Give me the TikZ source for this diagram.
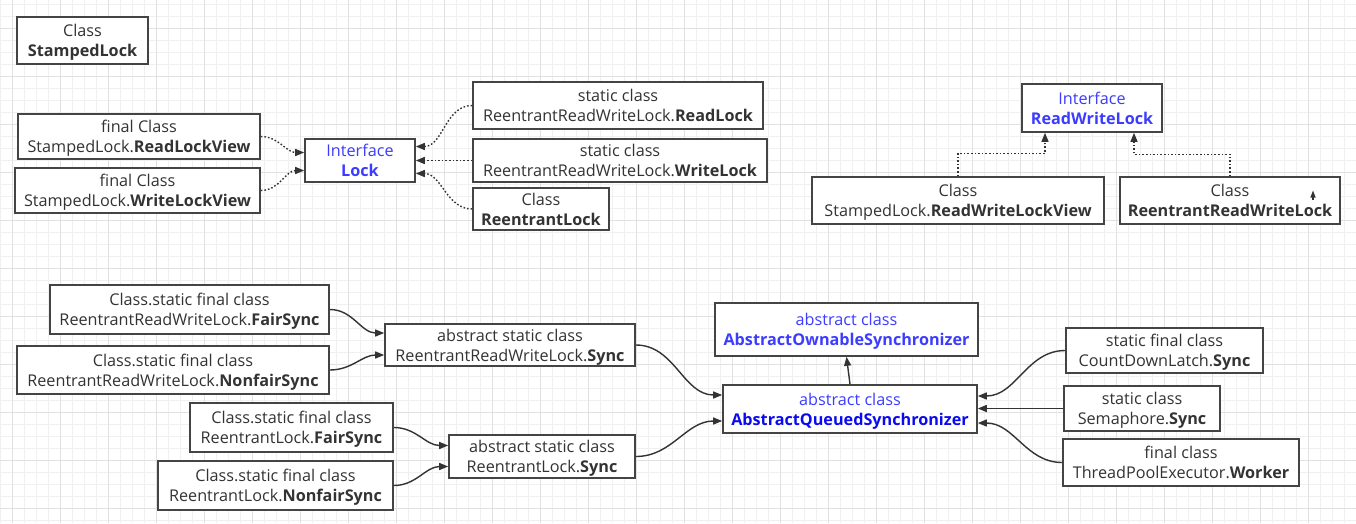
\documentclass[tikz,border=0pt]{standalone}
\usepackage{fontspec}
\setmainfont{Open Sans}
\usepackage{xcolor}
\usepackage{tikz}
\usetikzlibrary{
    arrows.meta,
    positioning
}

\definecolor{ink}{HTML}{333333}
\definecolor{boxgray}{HTML}{444444}
\definecolor{ifblue}{HTML}{3C3CFF}
\definecolor{aqsblue}{HTML}{0A0AF0}
\definecolor{gridfine}{HTML}{F0F0F0}
\definecolor{gridbold}{HTML}{E1E1E1}

\begin{document}
\begin{tikzpicture}[
    x=1pt, y=-1pt,
    >={Triangle[length=9pt,width=7pt]},
    box/.style={draw=boxgray, line width=1.6pt, fill=white, align=center,
        inner sep=0pt, text=ink, text depth=0pt,
        font=\fontsize{16.2}{20}\selectfont},
    iface/.style={box, text=ifblue},
    realize/.style={->, ink, line width=1.4pt, dash pattern=on 1.6pt off 2pt},
    inherit/.style={->, ink, line width=1.4pt}
]

\useasboundingbox (0,0) rectangle (1356,523);
\fill[white] (0,0) rectangle (1356,523);

% grid
\foreach \i in {0,...,113}
    \draw[gridfine, line width=0.8pt] (\i*12,0) -- (\i*12,523);
\foreach \j in {0,...,43}
    \draw[gridfine, line width=0.8pt] (0,4+\j*12) -- (1356,4+\j*12);
\foreach \i in {0,...,28}
    \draw[gridbold, line width=0.8pt] (12+\i*48,0) -- (12+\i*48,523);
\foreach \j in {0,...,10}
    \draw[gridbold, line width=0.8pt] (0,28+\j*48) -- (1356,28+\j*48);

% top left: Lock
\node[box, minimum width=131pt, minimum height=47pt] (stamped) at (82.5,40.5)
    {Class\\\textbf{StampedLock}};
\node[box, minimum width=242pt, minimum height=45pt] (rlview) at (139,136.5)
    {final Class\\StampedLock.\textbf{ReadLockView}};
\node[box, minimum width=245pt, minimum height=45pt] (wlview) at (137.5,190.5)
    {final Class\\StampedLock.\textbf{WriteLockView}};
\node[iface, minimum width=110pt, minimum height=43pt] (lock) at (360,160.5)
    {Interface\\\textbf{Lock}};
\node[box, minimum width=290pt, minimum height=47pt] (readlock) at (618,105.5)
    {static class\\ReentrantReadWriteLock.\textbf{ReadLock}};
\node[box, minimum width=294pt, minimum height=43pt] (writelock) at (620,160.5)
    {static class\\ReentrantReadWriteLock.\textbf{WriteLock}};
\node[box, minimum width=136pt, minimum height=42pt] (rlock) at (541,209)
    {Class\\\textbf{ReentrantLock}};

\draw[realize] (rlview.east) to[out=0,in=180] ([yshift=8pt]lock.west);
\draw[realize] (wlview.east) to[out=0,in=180] ([yshift=-10pt]lock.west);
\draw[realize] (readlock.west) to[out=180,in=0] ([yshift=14pt]lock.east);
\draw[realize] (writelock.west) -- (lock.east |- writelock.west);
\draw[realize] (rlock.west) to[out=180,in=0] ([yshift=-13pt]lock.east);

% top right: ReadWriteLock
\node[iface, minimum width=140pt, minimum height=48pt] (rwlock) at (1092,108)
    {Interface\\\textbf{ReadWriteLock}};
\node[box, minimum width=292pt, minimum height=47pt] (rwlview) at (958,200.5)
    {Class\\StampedLock.\textbf{ReadWriteLockView}};
\node[box, minimum width=220pt, minimum height=47pt] (rrwlock) at (1230,200.5)
    {Class\\\textbf{ReentrantReadWriteLock}};

\draw[ink, line width=1.2pt, -{Triangle[length=7pt,width=5pt]}]
    (1313,200) -- (1313,190.5);

\draw[realize] (rwlview.north) |- ++(0,-23) -| ([xshift=-47pt]rwlock.south);
\draw[realize] (rrwlock.north) |- ++(0,-22) -| ([xshift=42pt]rwlock.south);

% bottom: AQS
\node[box, minimum width=279pt, minimum height=49pt] (rrwfair) at (189.5,309.5)
    {Class.static final class\\ReentrantReadWriteLock.\textbf{FairSync}};
\node[box, minimum width=312pt, minimum height=48pt] (rrwnonfair) at (173,370)
    {Class.static final class\\ReentrantReadWriteLock.\textbf{NonfairSync}};
\node[box, minimum width=250pt, minimum height=42pt] (rrwsync) at (510,345)
    {abstract static class\\ReentrantReadWriteLock.\textbf{Sync}};
\node[box, minimum width=203pt, minimum height=49pt] (rlfair) at (291.5,427.5)
    {Class.static final class\\ReentrantLock.\textbf{FairSync}};
\node[box, minimum width=235pt, minimum height=49pt] (rlnonfair) at (275.5,485.5)
    {Class.static final class\\ReentrantLock.\textbf{NonfairSync}};
\node[box, minimum width=186pt, minimum height=43pt] (rlsync) at (542,456.5)
    {abstract static class\\ReentrantLock.\textbf{Sync}};
\node[iface, minimum width=263pt, minimum height=53pt] (aos) at (846.5,329.5)
    {abstract class\\\textbf{AbstractOwnableSynchronizer}};
\node[iface, minimum width=254pt, minimum height=48pt] (aqs) at (850,409)
    {abstract class\\\textcolor{aqsblue}{\textbf{AbstractQueuedSynchronizer}}};
\node[box, minimum width=197pt, minimum height=45pt] (cdl) at (1164.5,350.5)
    {static final class\\CountDownLatch.\textbf{Sync}};
\node[box, minimum width=156pt, minimum height=45pt] (sem) at (1142,408.5)
    {static class\\Semaphore.\textbf{Sync}};
\node[box, minimum width=236pt, minimum height=47pt] (worker) at (1181,462.5)
    {final class\\ThreadPoolExecutor.\textbf{Worker}};

\draw[inherit] (rrwfair.east) to[out=0,in=180] ([yshift=12pt]rrwsync.west);
\draw[inherit] (rrwnonfair.east) to[out=0,in=180] ([yshift=-10pt]rrwsync.west);
\draw[inherit] (rlfair.east) to[out=0,in=180] ([yshift=11pt]rlsync.west);
\draw[inherit] (rlnonfair.east) to[out=0,in=180] ([yshift=-10pt]rlsync.west);
\draw[inherit] (rrwsync.east) to[out=0,in=180] ([yshift=14pt]aqs.west);
\draw[inherit] (rlsync.east) to[out=0,in=180] ([yshift=-12pt]aqs.west);
\draw[inherit] (aqs.north) -- (aos.south);
\draw[inherit] (cdl.west) to[out=180,in=0] ([yshift=13pt]aqs.east);
\draw[inherit] (sem.west) -- (aqs.east |- sem.west);
\draw[inherit] (worker.west) to[out=180,in=0] ([yshift=-14pt]aqs.east);

\end{tikzpicture}
\end{document}
